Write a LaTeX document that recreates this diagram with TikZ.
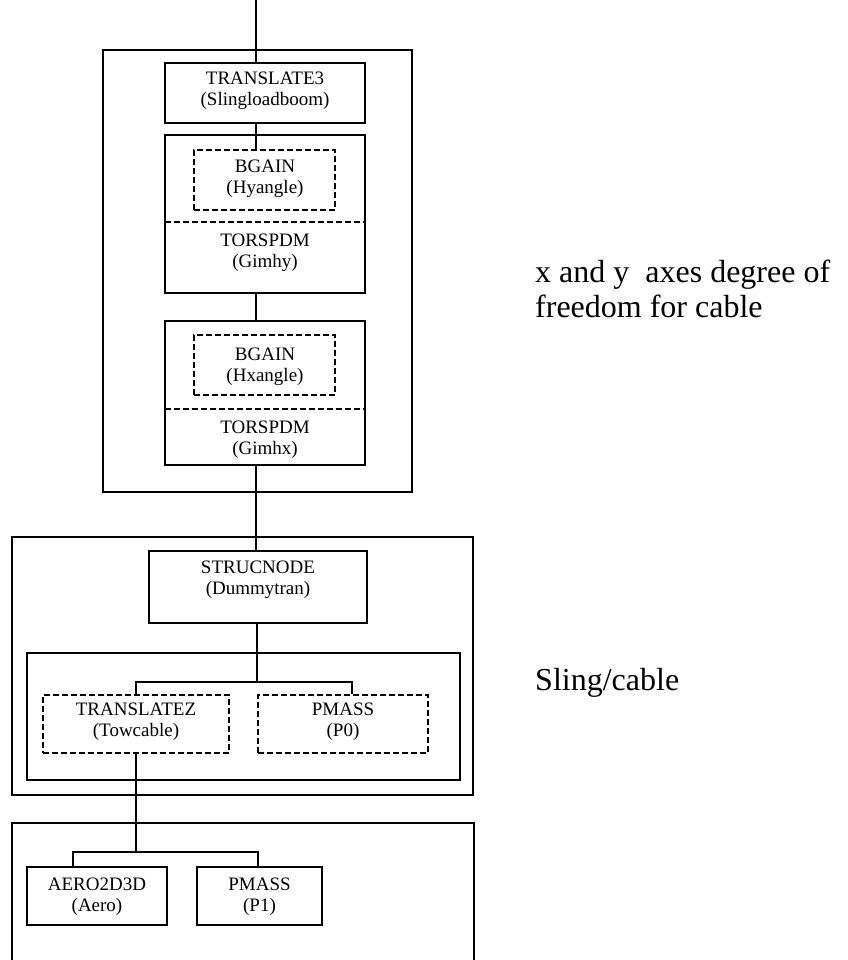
\documentclass[tikz,border=0pt]{standalone}
\usepackage{fontspec}
\setmainfont{Liberation Serif}
\begin{document}
\begin{tikzpicture}[x=1pt,y=-1pt,
  box/.style={draw, line width=1.4pt, rectangle, inner sep=0pt},
  dbox/.style={draw, line width=1.6pt, dash pattern=on 6pt off 3pt, rectangle, inner sep=0pt},
  lbl/.style={font=\fontsize{19}{21}\selectfont, align=center, inner sep=0pt},
  side/.style={font=\fontsize{32}{35}\selectfont, anchor=base west, inner sep=0pt},
  wire/.style={line width=1.4pt},
  dwire/.style={line width=1.6pt, dash pattern=on 6pt off 3pt}]
\useasboundingbox (0,0) rectangle (847,960);

% outer groups
\node[box, minimum width=309pt, minimum height=442pt] (g1) at (257.5,271) {};
\node[box, minimum width=461pt, minimum height=258pt] (g2) at (242.5,666) {};
\node[box, minimum width=433pt, minimum height=127pt] (g2in) at (243.5,716.5) {};
\coordinate (g3bl) at (12,960);
\coordinate (g3tl) at (12,823);
\coordinate (g3tr) at (474,823);
\coordinate (g3br) at (474,960);
\draw[wire] (g3bl) -- (g3tl) -- (g3tr) -- (g3br);

% TRANSLATE3
\node[box, minimum width=200pt, minimum height=60pt] (t3) at (265,93) {};
\node[lbl] (t3l) at (265,91) {TRANSLATE3\\(Slingloadboom)};

% block y
\node[box, minimum width=200pt, minimum height=158pt] (b2) at (265,214) {};
\coordinate (d2l) at (165,222);
\coordinate (d2r) at (365,222);
\draw[dwire] (d2l) -- (d2r);
\node[dbox, minimum width=141pt, minimum height=60pt] (bg1) at (264.5,180) {};
\node[lbl] (bg1l) at (265,179) {BGAIN\\(Hyangle)};
\node[lbl] (ts1l) at (265,252.5) {TORSPDM\\(Gimhy)};

% block x
\node[box, minimum width=200pt, minimum height=144pt] (b3) at (265,393) {};
\coordinate (d3l) at (165,409);
\coordinate (d3r) at (365,409);
\draw[dwire] (d3l) -- (d3r);
\node[dbox, minimum width=141pt, minimum height=60pt] (bg2) at (264.5,365) {};
\node[lbl] (bg2l) at (265,366.5) {BGAIN\\(Hxangle)};
\node[lbl] (ts2l) at (265,440) {TORSPDM\\(Gimhx)};

% STRUCNODE
\node[box, minimum width=218pt, minimum height=72pt] (sn) at (258,587) {};
\node[lbl] (snl) at (258,580) {STRUCNODE\\(Dummytran)};

% sling / cable
\node[dbox, line width=2pt, minimum width=186pt, minimum height=58pt] (tz) at (136,724) {};
\node[lbl] (tzl) at (136,722) {TRANSLATEZ\\(Towcable)};
\node[dbox, line width=2pt, minimum width=170pt, minimum height=58pt] (pm0) at (343,724) {};
\node[lbl] (pm0l) at (343,722) {PMASS\\(P0)};

% bottom
\node[box, minimum width=140pt, minimum height=58pt] (ae) at (97,896) {};
\node[lbl] (ael) at (97,896.5) {AERO2D3D\\(Aero)};
\node[box, minimum width=125pt, minimum height=58pt] (pm1) at (259.5,896) {};
\node[lbl] (pm1l) at (259.5,896.5) {PMASS\\(P1)};

% connectors
\coordinate (top) at (256,0);
\draw[wire] (top) -- (top |- t3.north);
\draw[wire] (t3.south -| top) -- (bg1.north -| top);
\draw[wire] (b2.south -| top) -- (b3.north -| top);
\draw[wire] (b3.south -| top) -- (sn.north -| top);
\coordinate (j1) at (257,682);
\coordinate (j1l) at (136,682);
\coordinate (j1r) at (352,682);
\draw[wire] (sn.south -| j1) -- (j1);
\draw[wire] (tz.north -| j1l) -- (j1l) -- (j1r) -- (pm0.north -| j1r);
\coordinate (j2) at (136,852);
\coordinate (j2l) at (73,852);
\coordinate (j2r) at (258,852);
\draw[wire] (tz.south -| j2) -- (j2);
\draw[wire] (ae.north -| j2l) -- (j2l) -- (j2r) -- (pm1.north -| j2r);

% side notes
\node[side] (n1) at (535,282) {x and y\ \ axes degree of};
\node[side] (n2) at (535,317) {freedom for cable};
\node[side] (n3) at (535,690) {Sling/cable};
\end{tikzpicture}
\end{document}
